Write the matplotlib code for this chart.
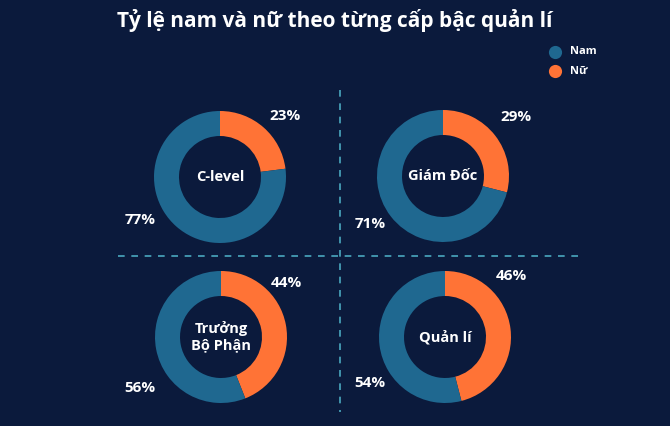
import matplotlib
matplotlib.use("Agg")
import matplotlib.pyplot as plt

categories = ["C-level", "Giám Đốc", "Trưởng\nBộ Phận", "Quản lí"]
nam = [77, 71, 56, 54]
nu = [23, 29, 44, 46]
legend_labels = ["Nam", "Nữ"]
title = "Tỷ lệ nam và nữ theo từng cấp bậc quản lí"

BG = "#0b1a3c"
BLUE = "#1f6890"
ORANGE = "#ff7336"
DASH = "#4aa8c0"

plt.rcParams["font.family"] = ["Open Sans", "DejaVu Sans"]

W, H = 670, 426
fig = plt.figure(figsize=(W / 100, H / 100), dpi=100, facecolor=BG)
ax = fig.add_axes([0, 0, 1, 1])
ax.set_facecolor(BG)

centers = [(220, 177), (443, 176), (221, 337), (445, 337)]
R = 66
ring = 25
lab_nu = [(285, 116), (516, 117), (286, 283), (511, 276)]
lab_nam = [(140, 220), (370, 224), (140, 388), (370, 383)]

for i, cat in enumerate(categories):
    cx, cy = centers[i]
    # y axis is inverted: startangle -90 is screen-top, counterclock in data = clockwise on screen
    ax.pie([nu[i], nam[i]], colors=[ORANGE, BLUE], startangle=-90,
           counterclock=True, center=(cx, cy), radius=R,
           wedgeprops=dict(width=ring, linewidth=0), frame=True)
    ax.text(cx, cy, cat, ha="center", va="center", color="white",
            fontsize=10.5, fontweight="bold", linespacing=1.2)
    ax.text(*lab_nu[i], f"{nu[i]}%", ha="center", va="center", color="white",
            fontsize=11, fontweight="bold")
    ax.text(*lab_nam[i], f"{nam[i]}%", ha="center", va="center", color="white",
            fontsize=11, fontweight="bold")

# dividers
ax.plot([118, 582], [256, 256], color=DASH, lw=1.2, linestyle=(0, (4, 4)))
ax.plot([340, 340], [90, 412], color=DASH, lw=1.2, linestyle=(0, (4, 4)))

# title
ax.text(335, 20, title, ha="center", va="center", color="white",
        fontsize=15, fontweight="bold")

# legend
for j, (lab, col) in enumerate(zip(legend_labels, [BLUE, ORANGE])):
    y = 52 + j * 19
    ax.scatter([555], [y], s=90, color=col, linewidths=0)
    ax.text(570, y, lab, ha="left", va="center", color="white",
            fontsize=8, fontweight="bold")

ax.set_xlim(0, W)
ax.set_ylim(H, 0)
ax.set_aspect("equal")
ax.axis("off")

fig.savefig("out.png", dpi=100, facecolor=BG)
